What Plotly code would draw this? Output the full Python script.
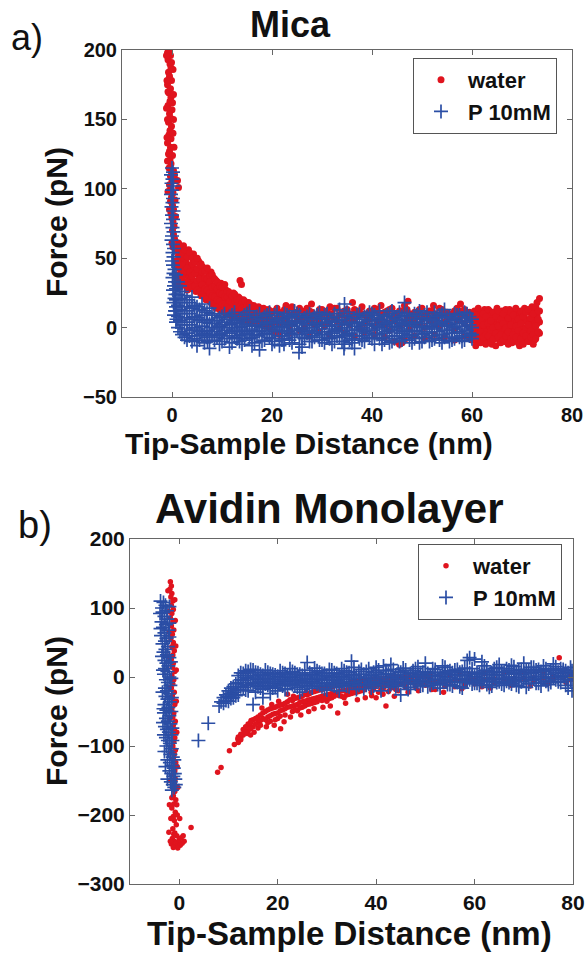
import plotly.graph_objects as go

RED = "#e0141e"
BLUE = "#2b4ea5"
FONT = "Arial, Liberation Sans, sans-serif"

# ---------------- panel a) Mica ----------------
mica_water_contact = [
    (-0.6, 199), (-0.3, 196), (-0.8, 193), (-0.4, 190), (-0.2, 187), (-0.7, 184), (-0.5, 181),
    (-0.1, 178), (-0.9, 175), (-0.3, 172), (-0.6, 169), (-0.2, 166), (-0.4, 163), (-0.8, 160),
    (0.0, 157), (-0.5, 154), (-0.3, 151), (-0.7, 148), (-0.1, 145), (-0.4, 142), (-0.6, 139),
    (-0.2, 136), (-0.9, 133), (-0.3, 130), (-0.5, 127), (0.1, 124), (-0.4, 121), (-0.2, 118),
    (-0.6, 115), (-0.1, 112), (-0.3, 109), (0.0, 106), (-0.5, 103), (-0.2, 100), (0.2, 97),
    (-0.1, 94), (-0.3, 91), (0.1, 88), (0.3, 85), (-0.2, 82), (0.0, 79), (0.2, 76), (0.4, 73),
    (0.1, 70), (0.3, 67), (0.5, 64), (0.0, 61), (0.2, 58), (1.1, 106), (1.3, 101), (13.6, 34), (13.9, 31),
    (-0.9, 198), (-0.1, 191), (-0.8, 170), (0.1, 162), (-0.9, 150), (0.2, 140), (-0.7, 125), (0.3, 113),
    (-1.1, 196), (0.2, 186), (-1.0, 178), (0.3, 168), (-1.1, 158), (0.3, 150), (-1.0, 137), (0.4, 130),
    (-0.9, 120), (0.5, 110), (-0.8, 98), (0.6, 92), (-0.5, 85), (0.7, 80),
    (22.8, 16), (27.9, 17), (31.6, 15), (36.1, 18), (41.8, 16), (47.2, 19), (52.3, 16), (57.7, 17),
]
mica_water_cols = [
    (0.8, [58, 48, 38, 30]), (1.3, [61, 52, 43, 34]), (1.8, [57, 49, 40, 31]), (2.3, [59, 50, 42, 33]),
    (2.8, [55, 47, 38, 30]), (3.3, [56, 45, 36]), (3.8, [52, 44, 35, 28]), (4.3, [53, 43, 33]),
    (4.8, [49, 40, 31, 26]), (5.3, [48, 38, 29]), (5.8, [46, 37, 28, 23]), (6.3, [43, 34, 26]),
    (6.8, [42, 33, 25, 20]), (7.3, [39, 31, 23]), (7.8, [40, 30, 21, 18]), (8.3, [36, 27, 19]),
    (8.8, [34, 26, 18, 14]), (9.3, [31, 24, 16]), (9.8, [32, 23, 15, 12]), (10.3, [28, 21, 13]),
    (10.8, [27, 20, 14, 10]), (11.3, [26, 18, 11]), (11.8, [24, 17, 12, 9]), (12.3, [25, 16, 10]),
    (12.8, [21, 15, 9]), (13.3, [22, 14, 8]), (13.8, [19, 13, 7]), (14.3, [20, 12, 8]),
    (14.8, [17, 11, 6]), (15.3, [18, 10, 7]), (15.8, [15, 10, 5]), (16.3, [16, 9, 6]),
    (16.8, [14, 9, 4]), (17.3, [15, 8, 5]), (17.8, [13, 8, 4]), (18.3, [14, 7, 3]),
    (18.8, [12, 7, 4]), (19.3, [13, 6, 2]), (19.8, [11, 6, 3]),
    (1.05, [55, 44, 35]), (1.55, [59, 46, 37, 29]), (2.05, [53, 45, 36]), (2.55, [56, 41, 32]),
    (3.05, [51, 43, 33, 27]), (3.55, [54, 40, 31]), (4.05, [50, 46, 37, 29]), (4.55, [47, 39, 30]),
    (5.05, [50, 42, 34, 27]), (5.55, [45, 35, 26]), (6.05, [44, 40, 31, 24]), (6.55, [41, 36, 28, 22]),
    (7.05, [43, 35, 27, 21]), (7.55, [37, 33, 25, 19]), (8.05, [38, 29, 23, 17]), (8.55, [35, 30, 22, 16]),
    (9.05, [33, 28, 20, 15]), (9.55, [30, 25, 19, 13]), (10.05, [29, 24, 17, 12]), (10.55, [31, 22, 16, 11]),
    (11.05, [26, 22, 15, 10]), (11.55, [25, 19, 14, 9]), (12.05, [23, 18, 13, 8]), (12.55, [24, 19, 12, 8]),
    (13.05, [20, 16, 11, 7]), (13.55, [21, 15, 10, 7]), (14.05, [18, 14, 10, 6]), (14.55, [19, 13, 9, 6]),
    (15.05, [16, 12, 8, 5]), (15.55, [17, 12, 8, 4]), (16.05, [14, 11, 7, 4]), (16.55, [15, 11, 6, 3]),
    (17.05, [13, 10, 6, 3]), (17.55, [14, 10, 6, 2]), (18.05, [12, 9, 5, 2]), (18.55, [13, 9, 5, 1]),
    (19.05, [11, 8, 4, 1]), (19.55, [12, 8, 4, 0]),
    (20.5, [12, 4, -3]), (21.5, [10, 2, -5]), (22.5, [13, 5]), (23.5, [9, 1, -4]), (24.5, [11, 3]),
    (25.5, [14, 6, -2]), (26.5, [10, 0]), (27.5, [12, 4, -6]), (28.5, [9, 2]), (29.5, [13, 5, -3]),
    (30.5, [11, 1]), (31.5, [10, 3, -5]), (32.5, [14, 6]), (33.5, [9, -1]), (34.5, [12, 4, -4]),
    (35.5, [10, 2]), (36.5, [13, 5, -6]), (37.5, [11, 0]), (38.5, [9, 3, -3]), (39.5, [12, 6]),
    (40.5, [14, 1, -5]), (41.5, [10, 4]), (42.5, [11, 2, -7]), (43.5, [13, -2]), (44.5, [9, 5, -10]),
    (45.5, [12, 1, -12]), (46.5, [16, 3, -9]), (47.5, [10, -1]), (48.5, [11, 4, -6]), (49.5, [13, 2]),
    (50.5, [9, 0, -8]), (51.5, [12, 5]), (52.5, [10, 3, -5]), (53.5, [14, 1]), (54.5, [11, 4, -7]),
    (55.5, [9, 2]), (56.5, [12, -2, -9]), (57.5, [10, 5]), (58.5, [13, 3, -6]), (59.5, [11, 0, -8]),
    (21, [14, 7]), (22, [11, 8]), (23, [13, 6]), (24, [15, 9]), (25, [10, 7]), (26, [12, 5]), (27, [14, 8]),
    (28, [11, 6]), (29, [9, 7]), (30, [13, 10]), (31, [12, 6]), (32, [10, 8]), (33, [14, 5]), (34, [11, 9]),
    (35, [13, 7]), (36, [9, 6]), (37, [12, 8]), (38, [15, 10]), (39, [10, 6]), (40, [11, 9]), (41, [13, 5]),
    (42, [9, 7]), (43, [12, 10]), (44, [14, 6]), (45, [10, 8]), (46, [12, -11]), (47, [13, 7]), (48, [9, 5]),
    (49, [11, 8]), (50, [14, 6]), (51, [10, 9]), (52, [12, 5]), (53, [9, 7]), (54, [13, 10]), (55, [11, 6]),
    (56, [10, 8]), (57, [14, 5]), (58, [12, 9]), (59, [10, 7]),
    (60.0, [10, 4, -3, -9]), (60.5, [12, 6, -1, -7]), (61.0, [8, 2, -5, -11]), (61.5, [11, 5, -2, -8]),
    (62.0, [9, 3, -4, -10]), (62.5, [13, 6, 0, -6]), (63.0, [10, 4, -3, -9]), (63.5, [12, 7, 1, -7]),
    (64.0, [9, 2, -4, -12]), (64.5, [11, 5, -1, -8]), (65.0, [14, 8, 2, -5]), (65.5, [10, 3, -3, -9]),
    (66.0, [12, 6, 0, -7]), (66.5, [9, 4, -2, -10]), (67.0, [11, 5, -4, -8]), (67.5, [13, 7, 1, -6]),
    (68.0, [10, 3, -3, -11]), (68.5, [12, 6, -1, -8]), (69.0, [9, 4, -5, -9]), (69.5, [11, 2, -2, -13]),
    (70.0, [10, 5, 0, -7]), (70.5, [14, 7, -3, -9]), (71.0, [11, 4, -1, -8]), (71.5, [12, 6, -4, -10]),
    (72.0, [15, 8, 2, -6]), (72.5, [13, 5, -2, -9]), (73.0, [18, 9, 3, -5]), (73.5, [21, 12, 4, -4]),
    (60.25, [7, 1, -6]), (60.75, [9, -4, -13]), (61.25, [14, 0, -8]), (61.75, [6, -3, -11]),
    (62.25, [10, 2, -7]), (62.75, [8, -5, -12]), (63.25, [13, 3, -6]), (63.75, [5, -2, -10]),
    (64.25, [11, 0, -8]), (64.75, [8, -4, -13]), (65.25, [12, 1, -7]), (65.75, [6, -5, -11]),
    (66.25, [10, 3, -9]), (66.75, [13, 0, -6]), (67.25, [7, -3, -12]), (67.75, [11, 2, -8]),
    (68.25, [9, -5, -10]), (68.75, [14, 1, -7]), (69.25, [6, -2, -11]), (69.75, [12, 3, -8]),
    (70.25, [8, -4, -12]), (70.75, [11, 0, -6]), (71.25, [13, 2, -10]), (71.75, [7, -2, -7]),
    (72.25, [10, -5, -12]), (72.75, [15, 1, -8]), (73.25, [12, 6, -3]),
]
mica_p_contact = [
    (0.0, 115), (0.2, 112), (-0.2, 110), (0.1, 107), (-0.1, 104), (0.3, 102), (0.0, 99), (-0.2, 96),
    (0.2, 93), (0.1, 90), (-0.1, 87), (0.3, 84), (0.0, 81), (0.2, 78), (-0.2, 75), (0.1, 72),
    (0.3, 69), (0.0, 66), (-0.1, 63), (0.2, 60), (0.4, 57), (0.1, 54), (0.3, 51), (0.0, 48),
    (0.2, 45), (0.5, 42), (0.3, 39), (0.1, 36), (0.6, 33), (0.4, 30), (0.2, 27), (0.7, 24),
    (0.5, 21), (0.3, 18), (0.8, 15), (0.6, 12), (0.4, 9), (0.9, 6),
    (25.4, -18), (34.4, -15), (22.4, -12), (7.1, -10),
]
mica_p_cols = [
    (0.8, [38, 28, 20, 12, 4]), (1.2, [33, 24, 16, 8, 0]), (1.6, [30, 21, 13, 5, -3]),
    (2.0, [26, 18, 10, 2, -5]), (2.5, [23, 15, 7, -1, -7]), (3.0, [20, 12, 4, -4, -9]),
    (3.5, [18, 10, 2, -6]), (4.0, [22, 14, 6, -2, -10]), (4.5, [16, 8, 0, -8]),
    (5.0, [15, 7, -1, -6, -13]), (5.5, [13, 5, -3, -9]), (6.0, [17, 9, 1, -5]),
    (6.5, [12, 4, -4, -11]), (7.0, [11, 6, -2, -7]), (7.5, [14, 3, -5, -15]), (8.0, [10, 5, 0, -6]),
    (8.5, [9, 3, -3, -9]), (9.5, [7, 1, -5, -12]), (10.5, [10, 4, -2, -8]), (11.5, [8, 2, -4, -14]),
    (12.5, [11, 5, -1, -7]), (13.5, [6, 0, -6, -10]), (14.5, [9, 3, -3, -9]), (15.5, [12, 5, -2, -8]),
    (16.5, [7, 1, -5, -11]), (17.5, [10, 4, -3, -16]), (18.5, [8, 2, -4, -9]), (19.5, [11, 6, 0, -7]),
    (20.5, [9, 3, -3, -10]), (21.5, [7, 1, -6, -13]), (22.5, [10, 4, -2, -8]), (23.5, [8, 2, -4, -9]),
    (24.5, [12, 5, -1, -7]), (25.5, [9, 3, -5, -12]), (26.5, [7, 0, -3, -8]), (27.5, [10, 4, -2, -10]),
    (28.5, [8, 2, -4, -7]), (29.5, [11, 6, -1, -9]), (30.5, [9, 3, -5, -11]), (31.5, [7, 1, -3, -8]),
    (32.5, [10, 4, -2, -10]), (33.5, [13, 5, -1, -7]), (34.5, [17, 8, 2, -6, -12]), (35.5, [9, 3, -4, -9]),
    (36.5, [7, 1, -6, -15]), (37.5, [10, 4, -2, -8]), (38.5, [8, 2, -3, -10]), (39.5, [11, 5, -1, -7]),
    (40.5, [9, 3, -5, -12]), (41.5, [12, 6, 0, -8]), (42.5, [8, 2, -4, -9]), (43.5, [10, 4, -2, -11]),
    (44.5, [7, 1, -6, -8]), (45.5, [11, 5, -1, -10]), (46.5, [18, 9, 3, -3, -7]), (47.5, [8, 2, -5, -9]),
    (48.5, [10, 4, -2, -8]), (49.5, [12, 6, 0, -11]), (50.5, [9, 3, -4, -7]), (51.5, [7, 1, -3, -10]),
    (52.5, [11, 5, -1, -8]), (53.5, [9, 3, -5, -9]), (54.5, [13, 4, -2, -7]), (55.5, [8, 2, -4, -10]),
    (56.5, [10, 6, 0, -8]), (57.5, [9, 3, -3, -7]), (58.5, [11, 5, -1, -9]), (59.5, [8, 2, -4, -6]),
    (9, [5, -1, -7]), (10, [8, 2, -4, -10]), (11, [6, 0, -6]), (12, [9, 3, -3, -11]), (13, [4, -2, -8]),
    (14, [7, 1, -5, -12]), (15, [10, 2, -4]), (16, [5, -1, -7, -13]), (17, [8, 2, -6]), (18, [6, 0, -2, -10]),
    (19, [9, 3, -5]), (20, [4, -2, -8, -12]), (21, [11, 5, -1]), (22, [6, 0, -6, -9]), (23, [9, 3, -3]),
    (24, [7, 1, -5, -11]), (25, [10, 4, -2]), (26, [5, -1, -7, -14]), (27, [8, 2, -4]), (28, [6, 0, -6, -10]),
    (29, [9, 3, -3]), (30, [7, 1, -5, -9]), (31, [10, 4, -7]), (32, [5, -1, -4, -12]), (33, [8, 2, -6]),
    (34, [6, 0, -3, -10]), (35, [11, 3, -5]), (36, [4, -2, -8, -11]), (37, [9, 3, -1]), (38, [6, 0, -6, -9]),
    (39, [8, 2, -4]), (40, [10, 5, -2, -8]), (41, [7, 1, -5]), (42, [5, -1, -7, -12]), (43, [9, 3, -3]),
    (44, [12, 4, -2, -10]), (45, [6, 0, -6]), (46, [8, 2, -4, -9]), (47, [10, 4, -2]), (48, [6, 1, -6, -11]),
    (49, [9, 3, -3]), (50, [7, 1, -5, -10]), (51, [11, 5, -1]), (52, [6, 0, -6, -9]), (53, [8, 2, -3]),
    (54, [10, 4, -5, -11]), (55, [7, 1, -2]), (56, [5, -1, -7, -9]), (57, [9, 3, -4]), (58, [7, 1, -6, -10]),
    (59, [10, 4, -2]), (60, [6, 0, -5, -8]),
]

# ---------------- panel b) Avidin Monolayer ----------------
avidin_water_contact = [
    (-1.8, 138), (-1.6, 132), (-1.9, 127), (-1.5, 121), (-1.7, 116), (-1.3, 110), (-1.6, 104), (-1.2, 98),
    (-1.5, 92), (-1.8, 86), (-1.3, 80), (-1.6, 74), (-1.1, 68), (-1.4, 62), (-1.7, 56), (-1.2, 50),
    (-1.5, 44), (-1.0, 38), (-1.3, 32), (-1.6, 26), (-1.2, 20), (-1.4, 14), (-0.9, 8), (-1.5, 2),
    (-1.1, -4), (-1.3, -10), (-1.6, -16), (-1.0, -22), (-1.4, -28), (-1.2, -34), (-0.9, -40), (-1.5, -46),
    (-1.1, -52), (-1.3, -58), (-0.8, -64), (-1.2, -70), (-1.0, -76), (-1.4, -82), (-0.9, -88), (-1.1, -94),
    (-1.3, -100), (-0.8, -106), (-1.0, -112), (-1.2, -118), (-0.7, -124), (-1.1, -130), (-0.9, -136),
    (-1.3, -142), (-0.8, -148), (-1.0, -154), (-1.4, -160), (-0.9, -166), (-1.2, -172), (-0.7, -178),
    (-1.1, -184), (-1.5, -190), (-0.8, -196), (-1.2, -202), (-1.0, -208), (-0.6, -214), (-1.3, -220),
    (-0.9, -226), (-0.5, -230), (-1.4, -234), (-1.0, -238), (-0.4, -240), (-1.6, -242), (-0.8, -245),
    (0.2, -244), (-1.2, -247), (0.6, -241), (-0.3, -248), (1.0, -238), (0.0, -236), (-1.8, -238),
    (-1.5, -175), (-0.5, -185), (-1.7, -205), (-0.4, -200), (-1.1, -228), (0.4, -233),
    (-2.3, 125), (-0.9, 112), (-2.1, 95), (-0.8, 82), (-2.0, 65), (-0.7, 45), (-2.2, 30), (-0.6, 10),
    (-2.0, -15), (-0.6, -35), (-1.9, -60), (-0.5, -80), (-1.8, -110), (-0.4, -130), (-1.9, -150),
    (-0.3, -160), (-2.0, -185), (0.1, -205), (-2.1, -225), (0.8, -230),
    (2.4, -218), (7.8, -138), (8.5, -131), (10.2, -107), (11.2, -98), (11.9, -90),
    (12.5, -88), (13.2, -78), (13.8, -82), (14.2, -70), (14.6, -63), (20.6, -75), (32.2, -52), (77.2, 28),
    (15.2, -80), (16.8, -45), (17.7, -72), (18.8, -40), (19.3, -70), (20.2, -35), (21.3, -65),
    (22.6, -58), (23.2, -28), (24.7, -55), (25.8, -22), (26.3, -50), (27.4, -46), (28.7, -15),
    (29.2, -44), (30.7, -42), (31.3, -10), (33.8, -38), (34.9, -6), (36.2, -33), (37.8, -30),
    (39.1, -27), (41.4, -25), (43.7, -28), (46.5, -22), (48.6, -20), (51.3, -18), (53.7, -22),
    (57.4, -17), (61.5, -14), (63.2, -16), (67.4, -12), (71.3, -13), (74.8, -10), (78.6, -8),
]
avidin_water_cols = [
    (12.0, [-95, -87]), (13.0, [-84, -76]), (14.0, [-78, -68]), (15.0, [-72, -62]), (16.0, [-66, -58, -74]),
    (17.0, [-60, -52]), (18.0, [-58, -48, -66]), (19.0, [-54, -45]), (20.0, [-52, -42, -60]),
    (21.0, [-48, -40]), (22.0, [-44, -36, -25]), (23.0, [-42, -34, -50]), (24.0, [-40, -30, -49]),
    (25.0, [-36, -28, -44]), (26.0, [-34, -26, -40]), (27.0, [-32, -22, -38]), (28.0, [-30, -20, -36]),
    (29.0, [-28, -18, -34]), (30.0, [-26, -16, -35]), (31.0, [-24, -14, -30]), (32.0, [-22, -12]),
    (33.0, [-20, -12, -28]), (34.0, [-19, -10, -26]), (35.0, [-17, -9, -24]), (36.0, [-16, -8, -22]),
    (37.0, [-15, -7, -20]), (38.0, [-14, -6, -10]), (39.0, [-13, -5, -22]), (40.0, [-12, -4, -30]),
    (41.0, [-11, -3, -18]), (42.0, [-11, -2, -42]), (43.0, [-10, -2, -16]), (44.0, [-10, -1, -18]),
    (45.0, [-9, -1]), (46.0, [-9, 0, -15]), (47.0, [-8, 0]), (48.0, [-8, 1, -14]), (49.0, [-8, 1]),
    (50.0, [-7, 2, -12]), (51.0, [-7, 2]), (52.0, [-7, -18]), (53.0, [-6, 3]), (54.0, [-6, -13]),
    (55.0, [-6, 3]), (56.0, [-5, -14]), (57.0, [-5, 4]), (58.0, [-5, -12]), (59.0, [-4, 4]),
    (60.0, [-4, -10]), (62.0, [-4, 5]), (64.0, [-3, -9]), (66.0, [-3, 6]), (68.0, [-2, -8]),
    (70.0, [-2, 7]), (72.0, [-1, -6]), (74.0, [-1, 8]), (76.0, [0, -5]), (78.0, [0, 9]), (79.5, [1, -4]),
    (12.5, [-91, -83]), (13.5, [-80, -72]), (14.5, [-75, -66, -84]), (15.5, [-68, -60]),
    (16.5, [-63, -55, -70]), (17.5, [-62, -50]), (18.5, [-56, -46, -64]), (19.5, [-53, -44, -62]),
    (20.5, [-49, -41, -57]), (21.5, [-46, -38, -55]), (22.5, [-43, -33]), (23.5, [-41, -31, -47]),
    (24.5, [-37, -29, -45]), (25.5, [-35, -25, -42]), (26.5, [-33, -24, -39]), (27.5, [-31, -21, -37]),
    (28.5, [-29, -19, -33]), (29.5, [-27, -17, -32]), (30.5, [-25, -15, -31]), (31.5, [-23, -13, -28]),
    (32.5, [-21, -11, -27]), (33.5, [-20, -10, -30]), (34.5, [-18, -9, -25]), (35.5, [-16, -8, -23]),
    (36.5, [-15, -6, -21]), (37.5, [-14, -6, -19]), (38.5, [-13, -4]), (39.5, [-12, -3, -17]),
    (40.5, [-11, -3, -22]), (41.5, [-10, -2, -16]), (42.5, [-10, -1, -21]), (43.5, [-9, 0]),
    (44.5, [-9, 0, -20]),
]
avidin_p_contact = [
    (-3.8, 110), (-3.2, 108), (-2.8, 104), (-3.5, 100), (-2.5, 96), (-3.9, 92), (-3.0, 88), (-2.4, 84),
    (-3.6, 80), (-2.7, 76), (-3.3, 72), (-2.2, 68), (-3.0, 64), (-3.7, 60), (-2.6, 56), (-2.9, 52),
    (-3.4, 48), (-2.3, 44), (-2.8, 40), (-3.2, 36), (-2.5, 32), (-2.0, 28), (-3.0, 24), (-2.6, 20),
    (-2.2, 16), (-2.9, 12), (-2.4, 8), (-3.1, 4), (-2.0, 0), (-2.7, -4), (-2.3, -8), (-1.8, -12),
    (-2.9, -16), (-2.5, -20), (-2.1, -24), (-2.8, -28), (-2.4, -32), (-1.9, -36), (-3.0, -40), (-2.2, -44),
    (-2.6, -48), (-3.1, -52), (-2.0, -56), (-2.7, -60), (-2.3, -64), (-1.8, -68), (-2.9, -72), (-2.5, -76),
    (-2.1, -80), (-1.6, -84), (-2.7, -88), (-2.3, -92), (-1.9, -96), (-2.6, -100), (-1.5, -104),
    (-2.2, -108), (-1.8, -112), (-1.3, -116), (-2.4, -120), (-1.9, -124), (-1.5, -128), (-1.1, -132),
    (-2.0, -136), (-1.6, -140), (-1.2, -144), (-0.8, -148), (-1.7, -152), (-1.3, -156), (-1.0, -160),
    (-1.5, -164), (-2.0, 102), (-3.4, 94), (-2.0, 78), (-3.8, 70), (-2.0, 58), (-3.5, 30), (-1.7, 22),
    (-3.3, 10), (-1.6, -2), (-3.4, -22), (-1.5, -30), (-3.2, -46), (-1.6, -50), (-3.3, -66), (-1.4, -74),
    (-3.1, -84), (-1.4, -92), (-3.0, -108), (-1.0, -120), (-2.8, -130), (-0.9, -140), (-2.4, -148),
    (-0.7, -156), (3.9, -92), (5.9, -67), (8.1, -42), (8.5, -36),
]
avidin_p_cols = [
    (9.0, [-38, -30]), (10.0, [-28, -20, -35]), (11.0, [-22, -14, -30]), (12.0, [-18, -8, 2, -26]),
    (13.0, [-15, -5, 5]), (14.0, [-12, -2, 8, -20]), (15.0, [-10, 0, 10, -40]), (16.0, [-14, -4, 6]),
    (17.0, [-8, 2, -18, -30]), (18.0, [-12, -2, 7]), (19.0, [-16, -6, 4]), (20.0, [-9, 1, -20]),
    (21.0, [-13, -3, 6]), (22.0, [-7, 3, -17]), (23.0, [-11, -1, 8]), (24.0, [-15, -5, 4]),
    (25.0, [-8, 2, -18]), (26.0, [-12, -2, 21]), (27.0, [-6, 4, -16]), (28.0, [-10, 0, 9]),
    (29.0, [-14, -4, 5]), (30.0, [-8, 2, -19]), (31.0, [-11, -1, 10]), (32.0, [-5, 5, -15]),
    (33.0, [-9, 1, 12]), (34.0, [-13, -3, 7]), (35.0, [-7, 3, 23]), (36.0, [-10, 0, -18]),
    (37.0, [-6, 4, 11]), (38.0, [-12, -2, 8]), (39.0, [-8, 2, -16]), (40.0, [-4, 6, 14]),
    (41.0, [-10, 0, -20]), (42.0, [-6, 4, 9]), (43.0, [-11, -1, 18]), (44.0, [-7, 3, -14]),
    (45.0, [-3, 7, -26]), (46.0, [-9, 1, 10]), (47.0, [-5, 5, -15]), (48.0, [-10, 0, 12]),
    (49.0, [-6, 4, -13]), (50.0, [-2, 8, 20]), (51.0, [-8, 2, -12]), (52.0, [-4, 6, 11]),
    (53.0, [-9, 1, -16]), (54.0, [-5, 5, 14]), (55.0, [-1, 9, -11]), (56.0, [-7, 3, 10]),
    (57.0, [-3, 7, -14]), (58.0, [-8, 2, 13]), (59.0, [-4, 6, 28]), (60.0, [-9, 1, 26]),
    (61.0, [-5, 5, -12]), (62.0, [-1, 9, 16]), (63.0, [-6, 4, -15]), (64.0, [-2, 8, 12]),
    (65.0, [-7, 3, 18]), (66.0, [-3, 7, -12]), (67.0, [0, 10, -8]), (68.0, [-5, 5, 15]),
    (69.0, [-1, 9, -14]), (70.0, [-4, 6, 20]), (71.0, [0, 10, -10]), (72.0, [-3, 7, 14]),
    (73.0, [1, 11, -9]), (74.0, [-2, 8, 16]), (75.0, [-6, 4, -11]), (76.0, [0, 10, 19]),
    (77.0, [-3, 7, -7]), (78.0, [1, 11, 5]), (79.0, [-4, 6, -16]), (79.8, [0, 9, -20]),
    (9.5, [-34, -26]), (10.5, [-24, -16, -31]), (11.5, [-19, -10, -27]), (12.5, [-14, -4, 6]),
    (13.5, [-11, -1, 9, -19]), (14.5, [-8, 2, 11]), (15.5, [-12, -2, 7, -22]), (16.5, [-6, 4, -16]),
    (17.5, [-10, 0, 10]), (18.5, [-14, -4, 5, -24]), (19.5, [-7, 3, -15]), (20.5, [-11, -1, 9]),
    (21.5, [-5, 5, -18]), (22.5, [-9, 1, 12]), (23.5, [-13, -3, 6]), (24.5, [-6, 4, -22]),
    (25.5, [-10, 0, 10]), (26.5, [-4, 6, -14]), (27.5, [-8, 2, 13]), (28.5, [-12, -2, 7]),
    (29.5, [-5, 5, -17]), (30.5, [-9, 1, 11]), (31.5, [-13, -3, 6]), (32.5, [-7, 3, -20]),
    (33.5, [-11, -1, 9]), (34.5, [-4, 6, -14]), (35.5, [-8, 2, 14]), (36.5, [-12, -2, 8]),
    (37.5, [-6, 4, -17]), (38.5, [-10, 0, 12]), (39.5, [-3, 7, -13]), (40.5, [-7, 3, 10]),
    (41.5, [-11, -1, 16]), (42.5, [-5, 5, -15]), (43.5, [-9, 1, 11]), (44.5, [-2, 8, -12]),
    (45.5, [-6, 4, 13]), (46.5, [-10, 0, -18]), (47.5, [-4, 6, 9]), (48.5, [-8, 2, 15]),
    (49.5, [-12, -2, 7]), (50.5, [-5, 5, -14]), (51.5, [-9, 1, 12]), (52.5, [-3, 7, -11]),
    (53.5, [-7, 3, 16]), (54.5, [-11, -1, 8]), (55.5, [-4, 6, -13]), (56.5, [-8, 2, 11]),
    (57.5, [-2, 8, -16]), (58.5, [-6, 4, 24]), (59.5, [-10, 0, 12]), (60.5, [-3, 7, -9]),
    (61.5, [-7, 3, 22]), (62.5, [-11, -1, 10]), (63.5, [-4, 6, -13]), (64.5, [-8, 2, 14]),
    (65.5, [-2, 8, -10]), (66.5, [-6, 4, 12]), (67.5, [-10, 0, 17]), (68.5, [-3, 7, -12]),
    (69.5, [-7, 3, 11]), (70.5, [-1, 9, -15]), (71.5, [-5, 5, 14]), (72.5, [-9, 1, 10]),
    (73.5, [-2, 8, -13]), (74.5, [-6, 4, 12]), (75.5, [0, 10, -8]), (76.5, [-4, 6, 15]),
    (77.5, [-8, 2, 12]), (78.5, [-1, 9, -12]), (79.5, [-5, 5, 14]),
]

x_ticks = [0, 20, 40, 60, 80]
mica_y_ticks = [-50, 0, 50, 100, 150, 200]
avidin_y_ticks = [-300, -200, -100, 0, 100, 200]


def expand(pairs, cols):
    xs = [p[0] for p in pairs]
    ys = [p[1] for p in pairs]
    for x, yl in cols:
        for y in yl:
            xs.append(x)
            ys.append(y)
    return xs, ys


W, H = 587, 953
fig = go.Figure()

panels = [
    dict(xa="x", ya="y", leg="legend", water=(mica_water_contact, mica_water_cols),
         p=(mica_p_contact, mica_p_cols), rs=7, ps=10),
    dict(xa="x2", ya="y2", leg="legend2", water=(avidin_water_contact, avidin_water_cols),
         p=(avidin_p_contact, avidin_p_cols), rs=5.5, ps=10),
]
for pn in panels:
    wx, wy = expand(*pn["water"])
    px, py = expand(*pn["p"])
    fig.add_trace(go.Scatter(
        x=wx, y=wy, mode="markers", name="water", xaxis=pn["xa"], yaxis=pn["ya"], legend=pn["leg"],
        marker=dict(symbol="circle", size=pn["rs"], color=RED, line=dict(width=0)),
    ))
    fig.add_trace(go.Scatter(
        x=px, y=py, mode="markers", name="P 10mM", xaxis=pn["xa"], yaxis=pn["ya"], legend=pn["leg"],
        marker=dict(symbol="cross-thin", size=pn["ps"], color=BLUE, line=dict(width=1.7, color=BLUE)),
    ))

axis_common = dict(showgrid=False, zeroline=False, showline=True, linecolor="#666", linewidth=1,
                   mirror="ticks", ticks="inside", ticklen=5, tickcolor="#666", tickwidth=1,
                   automargin=False)
legend_common = dict(yanchor="top", bgcolor="white", bordercolor="#555", borderwidth=1,
                     itemsizing="trace", itemwidth=44,
                     font=dict(family=FONT, size=22, color="#111", weight="bold"))

fig.update_layout(
    width=W, height=H, margin=dict(l=0, r=0, t=0, b=0, autoexpand=False),
    paper_bgcolor="white", plot_bgcolor="white", showlegend=True,
    xaxis=dict(domain=[122 / W, 572 / W], range=[-10, 80], anchor="y", tickvals=x_ticks,
               tickfont=dict(family=FONT, size=20, color="#111", weight="bold"), **axis_common),
    yaxis=dict(domain=[1 - 397 / H, 1 - 50 / H], range=[-50, 200], anchor="x", tickvals=mica_y_ticks,
               tickfont=dict(family=FONT, size=20, color="#111", weight="bold"), **axis_common),
    xaxis2=dict(domain=[130 / W, 573 / W], range=[-10, 80], anchor="y2", tickvals=x_ticks,
                tickfont=dict(family=FONT, size=21, color="#111", weight="bold"), **axis_common),
    yaxis2=dict(domain=[1 - 884 / H, 1 - 539 / H], range=[-300, 200], anchor="x2", tickvals=avidin_y_ticks,
                tickfont=dict(family=FONT, size=21, color="#111", weight="bold"), **axis_common),
    legend=dict(x=413 / W, y=1 - 58 / H, xanchor="left", **legend_common),
    legend2=dict(x=418 / W, y=1 - 544 / H, xanchor="left", **legend_common),
)

texts = [
    ("Mica", 290, 25, 36, "bold", 0),
    ("Avidin Monolayer", 329, 509, 42, "bold", 0),
    ("a)", 27, 37, 36, "normal", 0),
    ("b)", 35, 525, 38, "normal", 0),
    ("Tip-Sample Distance (nm)", 309, 443, 30, "bold", 0),
    ("Tip-Sample Distance (nm)", 349, 933, 33, "bold", 0),
    ("Force (pN)", 56, 222, 30, "bold", -90),
    ("Force (pN)", 56, 711, 30, "bold", -90),
]
for t, cx, cy, sz, wt, ang in texts:
    fig.add_annotation(text=t, x=cx / W, y=1 - cy / H, xref="paper", yref="paper",
                       xanchor="center", yanchor="middle", showarrow=False, textangle=ang,
                       font=dict(family=FONT, size=sz, color="#111", weight=wt))

fig.write_html("out.html")
